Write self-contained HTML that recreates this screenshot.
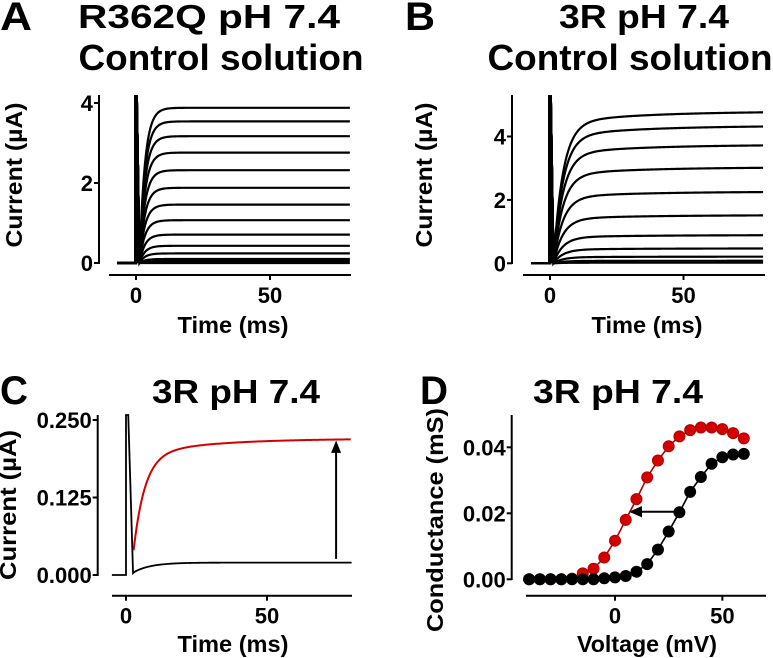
<!DOCTYPE html>
<html><head><meta charset="utf-8"><style>
body{margin:0;background:#fff}
svg{display:block;font-family:"Liberation Sans",Arial,sans-serif;font-weight:bold}
</style></head><body>
<svg id="fig" width="773" height="658" viewBox="0 0 773 658"></svg>
<script>
// Panel A steady-state currents (µA)
const aSteady = [3.88,3.54,3.17,2.76,2.32,1.88,1.46,1.07,0.71,0.43,0.24,0.1,0.05,0.0];
const aTau = 2.0;
// Panel B steady-state currents (µA)
const bSteady = [4.79,4.34,3.74,3.03,2.26,1.52,0.89,0.47,0.21,0.08,0.02];
const bTau = 3.5;
const timeTicks = [0,50];
const aYTicks = [0,2,4];
const bYTicks = [0,2,4];
// Panel C
const cYTicks = [0,0.125,0.25];
const cYTickLabels = ["0.000","0.125","0.250"];
const cRedSteady = 0.22, cRedStart = 0.04, cBlackSteady = 0.02;
// Panel D
const dVolts = [-40,-35,-30,-25,-20,-15,-10,-5,0,5,10,15,20,25,30,35,40,45,50,55,60];
const dBlack = [0,0,0,0,0,0,0,0.0003,0.0006,0.001,0.0023,0.0046,0.009,0.0145,0.0203,0.0265,0.031,0.035,0.037,0.0378,0.038];
const dRed = [0,0,0,0,0.0002,0.0018,0.0032,0.0066,0.0117,0.018,0.0243,0.0309,0.036,0.0403,0.0433,0.0452,0.046,0.046,0.0455,0.0443,0.0427];
const dXTicks = [0,50];
const dYTicks = [0,0.02,0.04];
const dYTickLabels = ["0.00","0.02","0.04"];

const svg=document.getElementById('fig');
const NS='http://www.w3.org/2000/svg';
function mk(tag,attrs,parent){const e=document.createElementNS(NS,tag);for(const k in attrs)e.setAttribute(k,attrs[k]);(parent||svg).appendChild(e);return e;}
function txt(s,x,y,size,anchor,parent,rot,len){const t=mk('text',{x:x,y:y,'font-size':size,'text-anchor':anchor||'middle'},parent);if(rot)t.setAttribute('transform',`rotate(-90 ${x} ${y})`);if(len){t.setAttribute('textLength',len);t.setAttribute('lengthAdjust','spacingAndGlyphs');}t.textContent=s;return t;}

function panel(name){const g=mk('g',{});return g;}

function axes(g,o){
  const ya=mk('line',{x1:o.yx,y1:o.ytop,x2:o.yx,y2:o.ybot,stroke:'#000','stroke-width':2},g);
  
  o.yt.forEach((v,i)=>{const y=o.ys(v);mk('line',{x1:o.yx-5,y1:y,x2:o.yx,y2:y,stroke:'#000','stroke-width':2},g);
    const t=txt(o.ytl[i],o.yx-6,y+8,22,'end',g);});
  const xa=mk('line',{x1:o.xl,y1:o.xy,x2:o.xr,y2:o.xy,stroke:'#000','stroke-width':2},g);
  
  o.xt.forEach(v=>{const x=o.xs(v);mk('line',{x1:x,y1:o.xy,x2:x,y2:o.xy+5,stroke:'#000','stroke-width':2},g);
    const t=txt(String(v),x,o.xy+28,22,'middle',g);});
}

function traces(g,steady,tau,xs,ys,topY,slow){
  steady.forEach(v=>{
    let pts=[];
    for(let t=-7;t<=0.3;t+=1)pts.push([xs(t),ys(0)]);
    pts.push([xs(0.3),topY]);
    const t0=1.3;
    pts.push([xs(t0),ys(0.02)]);
    for(let t=t0;t<=80;t+=0.5){
      const k=1-Math.exp(-(t-t0)/tau);
      const s=slow?(0.92+0.08*(1-Math.exp(-(t-t0)/30))):1;
      pts.push([xs(t),ys(v*k*s)]);
    }
    const p=mk('polyline',{points:pts.map(p=>p.join(',')).join(' '),fill:'none',stroke:'#000','stroke-width':2.2},g);
    
  });
  mk('line',{x1:xs(0),y1:ys(0),x2:xs(0),y2:topY,stroke:'#000','stroke-width':4},g);
}
function named(t,n){}

// Panel A
{const g=panel('panel-a');
 const xs=t=>136+t*2.68, ys=v=>263-v*40;
 axes(g,{yx:99,ytop:95,ybot:264,yt:aYTicks,ytl:aYTicks.map(String),ys:ys,xl:109,xr:351,xy:275,xt:timeTicks,xs:xs});
 traces(g,aSteady,aTau,xs,ys,95,false);
 named(txt('A',16,30,40,'middle',g,false,32),'panel-letter');
 named(txt('R362Q pH 7.4',209,28,33,'middle',g,false,262),'panel-title');
 named(txt('Control solution',221,70,36,'middle',g,false,285),'panel-subtitle');
 named(txt('Current (µA)',22,175,23,'middle',g,true,145),'y-axis-title');
 named(txt('Time (ms)',233,333,23,'middle',g,false,111),'x-axis-title');
}
// Panel B
{const g=panel('panel-b');
 const xs=t=>550+t*2.67, ys=v=>263.3-v*31.7;
 axes(g,{yx:512,ytop:95,ybot:264,yt:bYTicks,ytl:bYTicks.map(String),ys:ys,xl:523,xr:765,xy:275,xt:timeTicks,xs:xs});
 traces(g,bSteady,bTau,xs,ys,95,true);
 named(txt('B',420,30,40,'middle',g,false,30),'panel-letter');
 named(txt('3R pH 7.4',644,28,33,'middle',g,false,170),'panel-title');
 named(txt('Control solution',630,70,36,'middle',g,false,285),'panel-subtitle');
 named(txt('Current (µA)',432,175,23,'middle',g,true,145),'y-axis-title');
 named(txt('Time (ms)',647,333,23,'middle',g,false,111),'x-axis-title');
}
// Panel C
{const g=panel('panel-c');
 const xs=t=>126+t*2.82, ys=v=>575-v*620;
 axes(g,{yx:97.7,ytop:415,ybot:576,yt:cYTicks,ytl:cYTickLabels,ys:ys,xl:112,xr:352,xy:595.7,xt:timeTicks,xs:xs});
 let pts=[[xs(-5),ys(0)],[xs(0),ys(0)],[xs(0),415],[xs(0.8),415],[xs(2.5),ys(0.003)]];
 for(let t=3;t<=80;t+=0.5)pts.push([xs(t),ys(cBlackSteady-(cBlackSteady-0.005)*Math.exp(-(t-3)/6))]);
 let p=mk('polyline',{points:pts.map(p=>p.join(',')).join(' '),fill:'none',stroke:'#000','stroke-width':1.8},g);
 named(p,'control-trace');
 pts=[];
 for(let t=2.7;t<=80;t+=0.5){const k=0.85*(1-Math.exp(-(t-2.7)/4))+0.15*(1-Math.exp(-(t-2.7)/25));pts.push([xs(t),ys(cRedStart+(cRedSteady-cRedStart)*k)]);}
 p=mk('polyline',{points:pts.map(p=>p.join(',')).join(' '),fill:'none',stroke:'#d40000','stroke-width':2},g);
 named(p,'treated-trace');
 const ax=xs(74.5);
 named(mk('line',{x1:ax,y1:ys(0.026),x2:ax,y2:ys(0.2),stroke:'#000','stroke-width':2},g),'increase-arrow');
 mk('polygon',{points:`${ax-5},${ys(0.197)} ${ax+5},${ys(0.197)} ${ax},${ys(0.217)}`,fill:'#000'},g);
 named(txt('C',14,404,40,'middle',g,false,28),'panel-letter');
 named(txt('3R pH 7.4',236,403,33,'middle',g,false,168),'panel-title');
 named(txt('Current (µA)',16,505,23,'middle',g,true,150),'y-axis-title');
 named(txt('Time (ms)',233,652,23,'middle',g,false,111),'x-axis-title');
}
// Panel D
{const g=panel('panel-d');
 const xs=v=>615+v*2.147, ys=v=>579.3-v*3300;
 axes(g,{yx:511.7,ytop:415,ybot:580,yt:dYTicks,ytl:dYTickLabels,ys:ys,xl:526,xr:766,xy:595.7,xt:dXTicks,xs:xs});
 [[dRed,'#d40000','#b00000','red'],[dBlack,'#000','#000','black']].forEach(([arr,fill,stroke,nm])=>{
   const ln=mk('polyline',{points:dVolts.map((v,i)=>xs(v)+','+ys(arr[i])).join(' '),fill:'none',stroke:stroke,'stroke-width':1.6},g);
   
   dVolts.forEach((v,i)=>{const c=mk('circle',{cx:xs(v),cy:ys(arr[i]),r:5.5,fill:fill,stroke:stroke,'stroke-width':1},g);
     });
 });
 named(mk('line',{x1:675,y1:511.7,x2:640,y2:511.7,stroke:'#000','stroke-width':2},g),'shift-arrow');
 mk('polygon',{points:'642,506 642,517.4 629,511.7',fill:'#000'},g);
 named(txt('D',434,404,40,'middle',g,false,28),'panel-letter');
 named(txt('3R pH 7.4',618,403,33,'middle',g,false,170),'panel-title');
 named(txt('Conductance (mS)',443,520,23,'middle',g,true,224),'y-axis-title');
 named(txt('Voltage (mV)',647,652,23,'middle',g,false,140),'x-axis-title');
}
</script>
</body></html>
